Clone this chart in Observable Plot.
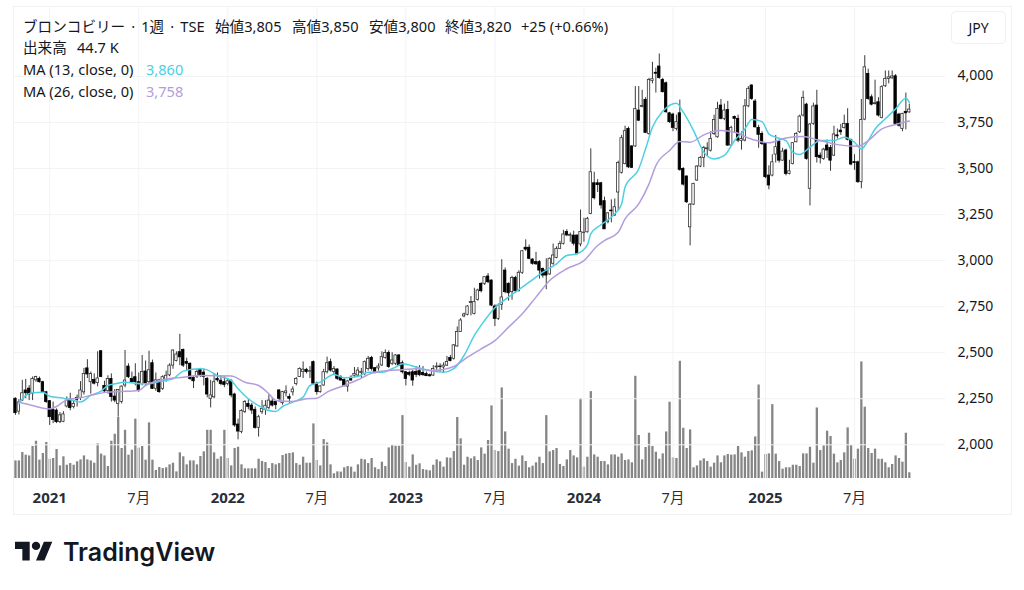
<!DOCTYPE html>
<html>
<head>
<meta charset="utf-8">
<script src="https://cdn.jsdelivr.net/npm/d3@7"></script>
<script src="https://cdn.jsdelivr.net/npm/@observablehq/plot@0.6"></script>
<style>
  html, body { margin: 0; padding: 0; background: #fff; }
  #chart { position: relative; width: 1024px; height: 590px; overflow: hidden; font-family: "Noto Sans", "Noto Sans CJK JP", sans-serif; color: #131722; }
  #chart svg { position: absolute; left: 0; top: 0; background: transparent; }
  #frame { position: absolute; left: 13px; top: 6px; width: 997px; height: 507px; border: 1px solid #f1f2f5; }
  #jpy { position: absolute; left: 951px; top: 11px; width: 53px; height: 31px; border: 1px solid #eef0f3; border-radius: 5px; text-align: center; line-height: 31px; font-size: 14px; background: #fff; z-index: 2; }
  .t { position: absolute; white-space: nowrap; font-size: 14.6px; line-height: 18px; z-index: 2; }
</style>
</head>
<body>
<div id="chart">
  <div id="frame"></div>
  <div id="jpy">JPY</div>
</div>
<script>
// 週足 2020-10-26 から 262本
const firstWeek = new Date("2020-10-26")

const opens = [
  2250,2180,2240,2295,2305,2277,2350,2358,2340,2285,
  2237,2190,2186,2123,2125,2208,2245,2205,2255,2255,
  2285,2415,2340,2352,2335,2508,2320,2292,2357,2262,
  2222,2232,2322,2425,2358,2367,2340,2330,2398,2340,
  2443,2304,2349,2304,2350,2377,2430,2455,2503,2515,
  2450,2440,2363,2370,2407,2392,2358,2250,2258,2358,
  2348,2340,2330,2348,2273,2110,2069,2178,2222,2213,
  2190,2092,2177,2190,2200,2235,2232,2295,2226,2280,
  2260,2285,2330,2368,2395,2407,2397,2449,2332,2286,
  2322,2394,2449,2395,2409,2367,2353,2316,2364,2375,
  2376,2390,2385,2412,2472,2416,2415,2431,2472,2499,
  2440,2440,2485,2443,2394,2390,2394,2395,2400,2390,
  2385,2378,2376,2420,2425,2420,2430,2472,2467,2534,
  2612,2697,2706,2770,2711,2787,2874,2874,2914,2892,
  2751,2684,2760,2946,2874,2829,2906,2834,2934,3070,
  3070,3006,2992,2992,2955,2946,2925,2983,3015,3064,
  3091,3155,3135,3136,3136,3088,3150,3154,3254,3420,
  3420,3420,3323,3209,3272,3245,3370,3477,3525,3715,
  3620,3620,3815,3835,3873,3688,3975,4020,4054,3981,
  3963,3800,3793,3715,3800,3498,3457,3181,3304,3435,
  3511,3558,3605,3597,3688,3670,3842,3770,3818,3625,
  3780,3770,3650,3652,3838,3951,3864,3721,3688,3634,
  3462,3462,3576,3647,3543,3598,3471,3525,3643,3697,
  3788,3847,3390,3743,3842,3570,3552,3625,3612,3570,
  3680,3706,3720,3742,3655,3535,3534,3426,3766,4014,
  3887,3850,3860,3775,3947,3987,3990,4001,3793,3715,
  3808,3805
]
const highs = [
  2255,2245,2350,2355,2322,2368,2372,2368,2345,2290,
  2240,2232,2195,2175,2180,2260,2280,2240,2270,2343,
  2415,2462,2395,2385,2505,2510,2345,2375,2385,2300,
  2300,2320,2512,2440,2395,2440,2390,2485,2455,2508,
  2460,2390,2355,2375,2400,2440,2515,2505,2600,2520,
  2470,2445,2370,2410,2415,2410,2365,2350,2385,2390,
  2365,2370,2360,2352,2280,2140,2190,2240,2245,2225,
  2205,2160,2240,2240,2270,2255,2240,2300,2290,2320,
  2275,2315,2365,2418,2450,2415,2425,2455,2340,2320,
  2410,2476,2465,2425,2412,2375,2358,2350,2375,2420,
  2420,2415,2455,2480,2480,2420,2440,2505,2515,2510,
  2500,2490,2490,2455,2398,2400,2405,2425,2430,2425,
  2395,2385,2430,2445,2440,2445,2480,2485,2545,2640,
  2685,2715,2755,2805,2850,2845,2880,2912,2930,2895,
  2760,2765,3005,2960,2880,2915,2915,2945,3055,3113,
  3085,3010,3045,3000,2960,3010,3015,3090,3075,3105,
  3165,3168,3150,3160,3140,3275,3230,3235,3607,3480,
  3440,3425,3345,3260,3330,3335,3540,3680,3730,3725,
  3625,3945,3945,3925,3885,3990,4077,4045,4122,3990,
  3970,3805,3800,3790,3872,3505,3460,3310,3420,3515,
  3565,3620,3640,3700,3790,3860,3875,3850,3865,3730,
  3785,3790,3700,3875,3945,3955,3875,3735,3700,3640,
  3515,3575,3680,3655,3610,3605,3545,3640,3695,3790,
  3920,3855,3745,3855,3925,3585,3610,3655,3625,3730,
  3715,3740,3790,3825,3660,3575,3540,3875,4113,4040,
  3900,3980,3885,3950,4030,4030,4030,4010,3800,3800,
  3910,3850
]
const lows = [
  2160,2162,2235,2250,2240,2240,2340,2335,2280,2225,
  2105,2115,2115,2115,2120,2200,2185,2195,2205,2240,
  2270,2360,2275,2325,2315,2365,2285,2275,2232,2228,
  2150,2222,2310,2360,2335,2320,2285,2320,2320,2330,
  2300,2290,2280,2295,2340,2370,2410,2450,2430,2420,
  2400,2350,2305,2360,2365,2320,2255,2200,2250,2340,
  2320,2310,2320,2255,2095,2027,2060,2170,2190,2165,
  2085,2042,2165,2160,2190,2205,2190,2230,2215,2260,
  2225,2265,2320,2365,2360,2385,2360,2325,2270,2280,
  2318,2385,2395,2380,2350,2345,2315,2286,2345,2365,
  2365,2360,2375,2400,2400,2385,2400,2425,2465,2415,
  2430,2430,2425,2385,2320,2370,2318,2365,2370,2372,
  2370,2368,2372,2395,2395,2392,2425,2450,2460,2530,
  2610,2690,2700,2700,2705,2780,2825,2865,2875,2750,
  2642,2675,2730,2820,2780,2785,2825,2830,2925,3050,
  3005,2975,2975,2900,2905,2842,2920,2975,3010,3060,
  3085,3130,3100,3080,3030,3075,3100,3150,3250,3330,
  3370,3280,3170,3200,3205,3240,3272,3470,3520,3500,
  3500,3615,3755,3830,3690,3680,3960,3910,3985,3910,
  3800,3745,3700,3705,3485,3405,3310,3080,3300,3430,
  3505,3505,3565,3590,3680,3665,3765,3760,3620,3620,
  3690,3640,3600,3645,3830,3870,3720,3610,3625,3445,
  3385,3455,3530,3530,3540,3460,3465,3520,3640,3690,
  3780,3545,3297,3735,3530,3525,3545,3555,3485,3565,
  3660,3680,3715,3650,3515,3490,3420,3390,3760,3870,
  3840,3845,3780,3770,3940,3960,3985,3735,3725,3700,
  3710,3800
]
const closes = [
  2172,2230,2280,2280,2272,2358,2368,2340,2285,2232,
  2150,2135,2123,2160,2165,2240,2200,2222,2245,2295,
  2385,2382,2385,2332,2360,2368,2290,2357,2259,2240,
  2298,2316,2349,2367,2340,2340,2295,2395,2332,2405,
  2304,2350,2286,2367,2375,2430,2512,2490,2475,2430,
  2440,2358,2345,2395,2375,2368,2273,2268,2340,2350,
  2330,2325,2345,2268,2105,2072,2183,2232,2205,2186,
  2092,2150,2195,2212,2240,2213,2215,2250,2286,2290,
  2250,2300,2358,2412,2408,2395,2400,2332,2286,2317,
  2394,2443,2403,2412,2358,2349,2318,2344,2349,2385,
  2403,2396,2449,2467,2412,2395,2425,2476,2499,2422,
  2458,2485,2431,2394,2358,2380,2349,2380,2378,2378,
  2373,2372,2412,2425,2423,2430,2450,2455,2540,2612,
  2675,2708,2751,2775,2775,2838,2834,2910,2883,2756,
  2684,2756,2800,2829,2823,2906,2834,2934,3051,3060,
  3010,2983,2980,2946,2919,2919,3010,3028,3064,3091,
  3142,3137,3140,3092,3037,3155,3152,3227,3480,3339,
  3410,3300,3170,3257,3268,3290,3530,3665,3703,3507,
  3504,3824,3760,3840,3694,3981,3985,4015,3992,3915,
  3806,3752,3721,3752,3493,3413,3317,3304,3417,3511,
  3558,3612,3610,3661,3764,3824,3770,3815,3625,3721,
  3770,3652,3660,3838,3933,3878,3724,3683,3634,3453,
  3408,3534,3616,3543,3592,3471,3485,3638,3688,3782,
  3884,3552,3739,3837,3562,3558,3603,3598,3543,3685,
  3675,3697,3742,3657,3522,3530,3426,3764,4050,3878,
  3847,3855,3788,3942,3987,3995,4000,3742,3733,3797,
  3800,3820
]
const volumes = [
  138,138,204,183,177,251,292,144,196,282,
  151,157,227,99,170,104,117,104,131,146,
  177,146,138,120,271,191,177,94,292,347,
  478,235,378,183,222,465,238,251,144,436,
  144,63,86,78,84,107,120,52,201,170,
  107,138,138,107,172,209,378,378,201,151,
  170,378,157,99,235,245,107,76,76,76,
  76,151,133,125,78,117,107,117,180,191,
  196,201,117,104,167,120,120,428,141,99,
  305,279,107,37,52,50,84,94,89,50,
  107,151,146,117,157,84,70,128,94,240,
  258,253,253,493,125,89,185,104,115,70,
  65,60,104,146,131,89,162,159,211,478,
  311,104,167,154,170,141,240,191,298,569,
  219,211,710,365,230,117,151,97,177,133,
  84,97,123,167,117,493,209,219,235,110,
  94,146,219,177,162,626,89,167,681,185,
  167,133,133,107,185,185,167,193,141,146,
  123,801,337,146,243,355,251,206,151,193,
  365,598,162,157,919,394,235,381,84,99,
  138,154,133,89,120,177,123,177,188,183,
  185,251,201,167,211,217,326,733,50,188,
  193,579,191,133,73,84,84,104,104,94,
  193,193,245,120,553,219,256,371,329,191,
  123,141,201,397,258,151,230,914,559,235,
  196,230,151,151,123,84,110,177,157,128,
  355,44.7
]

// 移動平均は読み取った折れ点のみ
const ma13Weeks = [
  1,3,5,8,10,14,17,19,22,25,27,29,32,37,39,42,46,49,54,56,59,63,65,68,71,74,76,78,81,84,
  86,89,93,96,100,103,107,111,113,117,121,125,128,131,134,137,140,142,146,150,154,158,161,164,
  167,168,171,175,177,178,182,184,186,189,193,195,198,201,204,207,210,213,215,218,220,222,225,227,229,
  232,235,239,242,245,247,249,251,254,257,260,261
]
const ma13Values = [
  2222,2268,2282,2286,2264,2253,2241,2232,2268,2291,2322,2331,2340,2331,2331,2344,2358,2400,2413,2407,2376,2349,2304,2250,2213,2186,2181,2208,2232,2259,
  2322,2340,2382,2364,2371,2394,2394,2422,2440,2422,2403,2394,2413,2485,2594,2675,2744,2775,2829,2883,2937,2983,3028,3037,
  3085,3145,3195,3254,3308,3399,3498,3607,3724,3811,3855,3806,3706,3589,3552,3571,3652,3715,3766,3755,3688,3670,3652,3589,3576,
  3616,3652,3652,3670,3643,3607,3652,3715,3770,3824,3882,3860
]
const ma26Weeks = [
  1,5,10,12,15,19,23,27,30,36,38,42,49,54,63,67,71,74,76,81,85,88,91,96,100,104,109,113,117,122,
  128,132,136,140,144,148,152,156,161,166,170,172,176,178,182,185,187,191,194,197,201,206,210,214,220,
  225,230,234,240,246,249,253,257,261
]
const ma26Values = [
  2232,2213,2195,2208,2244,2255,2273,2286,2289,2295,2322,2349,2367,2376,2373,2340,2322,2277,2241,2235,2250,2253,2286,2322,2353,2389,2403,2407,2413,2403,
  2425,2476,2521,2566,2639,2711,2802,2892,2956,3000,3082,3109,3154,3227,3308,3417,3516,3598,3647,3643,3683,3706,3697,3666,3640,
  3666,3674,3657,3630,3621,3652,3715,3739,3758
]

const yearTicks = ["2021-01-04", "2022-01-03", "2023-01-02", "2024-01-01", "2025-01-06"].map(d => new Date(d))
const monthTicks = ["2021-07-05", "2022-07-04", "2023-07-03", "2024-07-01", "2025-07-07"].map(d => new Date(d))
const priceTicks = [2000, 2250, 2500, 2750, 3000, 3250, 3500, 3750, 4000]

const weekDate = i => d3.utcMonday.offset(firstWeek, i)
const candles = opens.map((o, i) => ({date: weekDate(i), o, h: highs[i], l: lows[i], c: closes[i], v: volumes[i]}))
const ma13 = ma13Weeks.map((w, i) => ({date: weekDate(w), v: ma13Values[i]}))
const ma26 = ma26Weeks.map((w, i) => ({date: weekDate(w), v: ma26Values[i]}))

const xDomain = [new Date("2020-10-22"), new Date("2026-01-09")]
const layout = {width: 1024, height: 590, marginLeft: 13, marginRight: 79, marginTop: 6, marginBottom: 112}
const gridColor = "#f2f3f5"

/* 出来高は別スケール */
const volumeChart = Plot.plot({
  ...layout,
  x: {type: "utc", domain: xDomain, axis: null},
  y: {domain: [0, 3700], axis: null},
  marks: [
    Plot.ruleX(candles, {x: "date", y1: 0, y2: "v", stroke: "#858585", strokeWidth: 2.3})
  ]
})

/* ローソク足 */
const up = candles.filter(d => d.c >= d.o)
const down = candles.filter(d => d.c < d.o)
const bodyOpts = {x1: "date", x2: "date", y1: "o", y2: "c", insetLeft: -1.2, insetRight: -1.2}

const priceChart = Plot.plot({
  ...layout,
  style: {background: "transparent", fontFamily: "'Noto Sans', 'Noto Sans CJK JP', sans-serif"},
  x: {type: "utc", domain: xDomain},
  y: {domain: [1817, 4380]},
  marks: [
    Plot.gridY(priceTicks, {stroke: gridColor, strokeOpacity: 1}),
    Plot.gridX(yearTicks.concat(monthTicks), {stroke: gridColor, strokeOpacity: 1}),
    Plot.ruleX(candles, {x: "date", y1: "l", y2: "h", stroke: "#3a3a3a", strokeWidth: 1}),
    Plot.rect(up, {...bodyOpts, fill: "#fff", stroke: "#333", strokeWidth: 0.8}),
    Plot.rect(down, {...bodyOpts, fill: "#000", stroke: "#000", strokeWidth: 0.8}),
    Plot.line(ma13, {x: "date", y: "v", stroke: "#4dd0e1", strokeWidth: 1.5, curve: "monotone-x"}),
    Plot.line(ma26, {x: "date", y: "v", stroke: "#b39ddb", strokeWidth: 1.5, curve: "monotone-x"}),
    Plot.axisY(priceTicks, {anchor: "right", tickSize: 0, tickPadding: 12, label: null, tickFormat: d3.format(","), fontSize: 14, fill: "#131722", textAnchor: "start", dy: -0.5}),
    Plot.axisX(yearTicks, {anchor: "bottom", tickSize: 0, tickPadding: 14, label: null, tickFormat: d => d3.utcFormat("%Y")(d), fontSize: 15, fontWeight: 700, fill: "#2a2e39"}),
    Plot.axisX(monthTicks, {anchor: "bottom", tickSize: 0, tickPadding: 14, label: null, tickFormat: d => (d.getUTCMonth() + 1) + "月", fontSize: 14.5, fill: "#2a2e39"})
  ]
})

const root = document.getElementById("chart")
root.append(volumeChart, priceChart)

/* 凡例テキスト */
function label(text, x, y, color) {
  const el = document.createElement("div")
  el.className = "t"
  el.textContent = text
  el.style.left = x + "px"
  el.style.top = (y - 9) + "px"
  if (color) el.style.color = color
  root.append(el)
  return el
}
label("ブロンコビリー · 1週 · TSE", 23, 25.5).style.wordSpacing = "2.3px"
label("始値3,805", 215, 25.5)
label("高値3,850", 292, 25.5)
label("安値3,800", 369, 25.5)
label("終値3,820", 445, 25.5)
label("+25 (+0.66%)", 521, 25.5)
label("出来高", 23, 46.5)
label("44.7 K", 77, 46.5)
label("MA (13, close, 0)", 23, 68.5)
label("3,860", 146, 68.5, "#4dd0e1")
label("MA (26, close, 0)", 23, 90.5)
label("3,758", 146, 90.5, "#b39ddb")

/* ロゴ */
const logo = d3.create("svg").attr("width", 220).attr("height", 40).style("left", "15px").style("top", "534px")
logo.append("path").attr("transform", "translate(0,3.5) scale(1.05)").attr("fill", "#131722")
  .attr("d", "M14 22H7V11H0V4h14v18zM28 22h-8l7.5-18h8L28 22z")
logo.append("circle").attr("transform", "translate(0,3.5) scale(1.05)").attr("cx", 20).attr("cy", 8).attr("r", 4).attr("fill", "#131722")
logo.append("text").attr("x", 48).attr("y", 27).attr("fill", "#131722")
  .attr("font-family", "Inter").attr("font-weight", 600).attr("font-size", 25).text("TradingView")
root.append(logo.node())
</script>
</body>
</html>
